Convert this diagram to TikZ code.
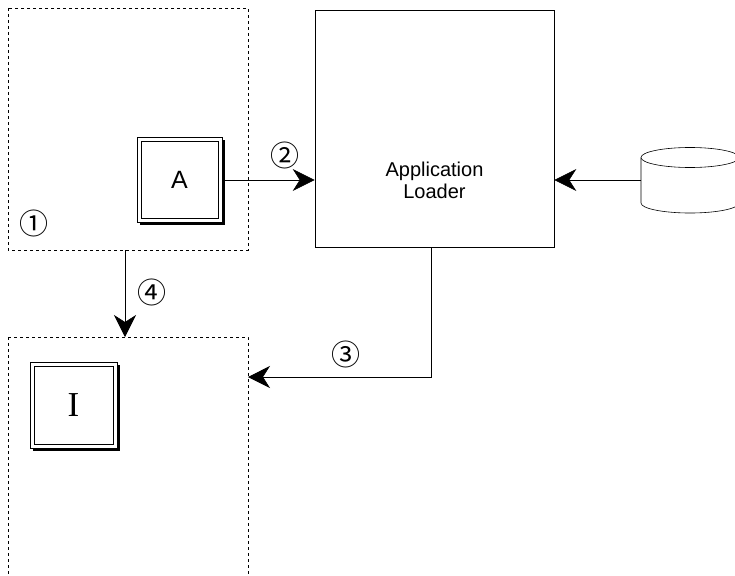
\documentclass[tikz,border=0pt]{standalone}
\usepackage{fontspec}
\setmainfont{Liberation Sans}
\newfontfamily\circfont{Noto Sans CJK JP}
\newfontfamily\seriffont{Liberation Serif}
\usetikzlibrary{arrows.meta,shapes.geometric}
\tikzset{
  region/.style={draw, dashed, dash pattern=on 3pt off 3pt, line width=0.6pt},
  plainbox/.style={draw, line width=0.6pt, fill=white},
  conn/.style={line width=0.6pt, -{Stealth[length=22pt,width=22pt,inset=7pt]}},
  circnum/.style={font=\circfont\fontsize{29}{29}\selectfont, inner sep=0pt},
  lbl/.style={font=\fontsize{20}{22}\selectfont, align=center},
}
\begin{document}
\begin{tikzpicture}[x=1pt,y=-1pt]
\useasboundingbox (0,0) rectangle (735,575);
% regions
\draw[region] (8,8) rectangle (248,250);
\draw[region] (8,337) -- (248,337) -- (248,576);
\draw[region] (8,337) -- (8,576);
\coordinate (r1bot) at (125,250);
\coordinate (r2top) at (125,337);
\coordinate (r2right) at (248,377);
% A box
\fill[black] (140,140) rectangle (225,225);
\node[plainbox, minimum width=85pt, minimum height=85pt, inner sep=0pt] (A) at (179.5,179.5) {};
\draw[line width=0.6pt] (141,141) rectangle (218,218);
\node[font=\fontsize{25}{25}\selectfont] (Atext) at (A.center) {A};
% I box
\fill[black] (33,365) rectangle (120,451);
\node[plainbox, minimum width=87pt, minimum height=86pt, inner sep=0pt] (I) at (73.5,405) {};
\draw[line width=0.6pt] (34,366) rectangle (113,444);
\node[font=\seriffont\fontsize{35}{35}\selectfont] (Itext) at (I.center) {I};
% Application Loader
\node[draw, line width=0.6pt, minimum width=239pt, minimum height=237pt, inner sep=0pt] (AL) at (434.5,128.5) {};
\node[lbl] (ALtext) at (434.5,180) {Application\\Loader};
% cylinder
\draw[line width=0.6pt, fill=white] (641,157.5) -- (641,203) arc[start angle=180, end angle=360, x radius=49pt, y radius=10pt] -- (739,157.5);
\draw[line width=0.6pt, fill=white] (690,157.5) ellipse[x radius=49pt, y radius=10pt];
\coordinate (cyl) at (641,180);
% connectors
\draw[conn] (A.east |- 0,180) -- (AL.west |- 0,180);
\draw[conn] (cyl) -- (AL.east |- cyl);
\draw[conn] (431,247) -- (431,377) -- (r2right);
\draw[conn] (r1bot) -- (r2top);
% numbers
\node[circnum] (n1) at (34,223) {①};
\node[circnum] (n2) at (285,155) {②};
\node[circnum] (n3) at (346,354) {③};
\node[circnum] (n4) at (152,292) {④};
\end{tikzpicture}
\end{document}
